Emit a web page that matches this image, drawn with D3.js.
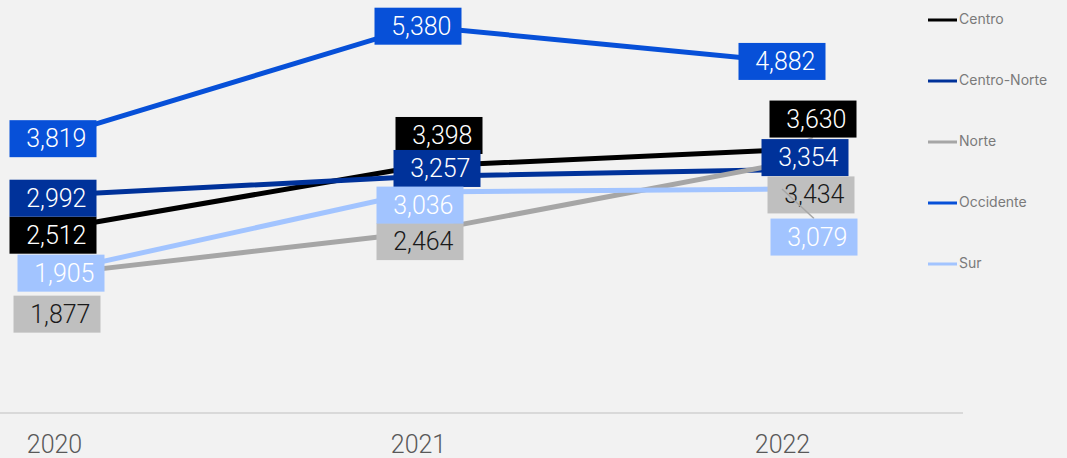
<!DOCTYPE html>
<html>
<head>
<meta charset="utf-8">
<script src="https://cdn.jsdelivr.net/npm/d3@7"></script>
<style>
  html, body { margin: 0; padding: 0; background: #f2f2f2; }
  svg { display: block; font-family: "Roboto", "Inter", sans-serif; }
</style>
</head>
<body>
<div id="chart"></div>
<script>
// data
const years = ["2020", "2021", "2022"];
const regions = ["Centro", "Centro-Norte", "Norte", "Occidente", "Sur"];
const centro = [2512, 3398, 3630];
const centroNorte = [2992, 3257, 3354];
const norte = [1877, 2464, 3434];
const occidente = [3819, 5380, 4882];
const sur = [1905, 3036, 3079];

const seriesValues = [centro, centroNorte, norte, occidente, sur];

// styles
const lineColors = ["#000000", "#00329a", "#a6a6a6", "#0750d8", "#a2c4ff"];
const boxColors = ["#000000", "#00329a", "#bfbfbf", "#0750d8", "#a2c4ff"];
const textColors = ["#ffffff", "#ffffff", "#1a1a1a", "#ffffff", "#ffffff"];

// label box offsets from their point (collision layout of the original)
const labelOffsets = [
  [[-1, 6], [21, -31], [31, -31]],
  [[-1, 3], [19, -8], [23, -12]],
  [[3, 40], [2, 9], [29, 31]],
  [[-1, 2], [0, 0], [0, 0]],
  [[7, 1], [2, 13], [32, 48]]
];
// which labels get a leader line back to their point
const leaders = [[0, 2], [4, 2]];

const width = 1067, height = 458;
const svg = d3.select("#chart").append("svg")
  .attr("width", width).attr("height", height);

svg.append("rect").attr("width", width).attr("height", height).attr("fill", "#f2f2f2");

const x = d3.scalePoint().domain(years).range([54, 782]);
const y = d3.scaleLinear().domain([0, 5750]).range([407, 0]);

// x axis
const xAxis = svg.append("g")
  .attr("transform", "translate(0,413)")
  .call(d3.axisBottom(x).tickSize(0).tickPadding(22));
xAxis.select(".domain").remove();
xAxis.selectAll("text")
  .attr("fill", "#595959")
  .style("font-size", "25px")
  .style("font-weight", 300)
  .style("font-family", "Roboto, Inter, sans-serif");
svg.append("line")
  .attr("x1", 0).attr("x2", 963)
  .attr("y1", 413).attr("y2", 413)
  .attr("stroke", "#d9d9d9").attr("stroke-width", 2);

// lines
const line = d3.line().x((d, i) => x(years[i])).y(d => y(d));
seriesValues.forEach((vals, s) => {
  svg.append("path")
    .datum(vals)
    .attr("d", line)
    .attr("fill", "none")
    .attr("stroke", lineColors[s])
    .attr("stroke-width", 5);
});

// labels
const boxW = 87, boxH = 37;
const fmt = d3.format(",");
seriesValues.forEach((vals, s) => {
  vals.forEach((v, i) => {
    const px = x(years[i]), py = y(v);
    const cx = px + labelOffsets[s][i][0], cy = py + labelOffsets[s][i][1];
    if (leaders.some(l => l[0] === s && l[1] === i)) {
      const ty = cy > py ? cy - boxH / 2 : cy + boxH / 2;
      svg.append("line")
        .attr("x1", px).attr("y1", py)
        .attr("x2", cx).attr("y2", ty)
        .attr("stroke", "#a6a6a6").attr("stroke-width", 1.5);
    }
    svg.append("rect")
      .attr("x", cx - boxW / 2).attr("y", cy - boxH / 2)
      .attr("width", boxW).attr("height", boxH)
      .attr("fill", boxColors[s]);
    svg.append("text")
      .attr("x", cx + boxW / 2 - 10).attr("y", cy + 8.5)
      .attr("text-anchor", "end")
      .attr("fill", textColors[s])
      .style("font-size", "25px")
      .style("font-weight", 300)
      .text(fmt(v));
  });
});

// legend
const legend = svg.append("g");
regions.forEach((r, i) => {
  const ly = 20 + i * 61;
  legend.append("line")
    .attr("x1", 928).attr("x2", 957)
    .attr("y1", ly).attr("y2", ly)
    .attr("stroke", lineColors[i]).attr("stroke-width", 3);
  legend.append("text")
    .attr("x", 959).attr("y", ly)
    .attr("dominant-baseline", "middle")
    .attr("fill", "#7a7a7a")
    .style("font-family", "Inter, Roboto, sans-serif")
    .style("font-size", "14px")
    .text(r);
});
</script>
</body>
</html>
